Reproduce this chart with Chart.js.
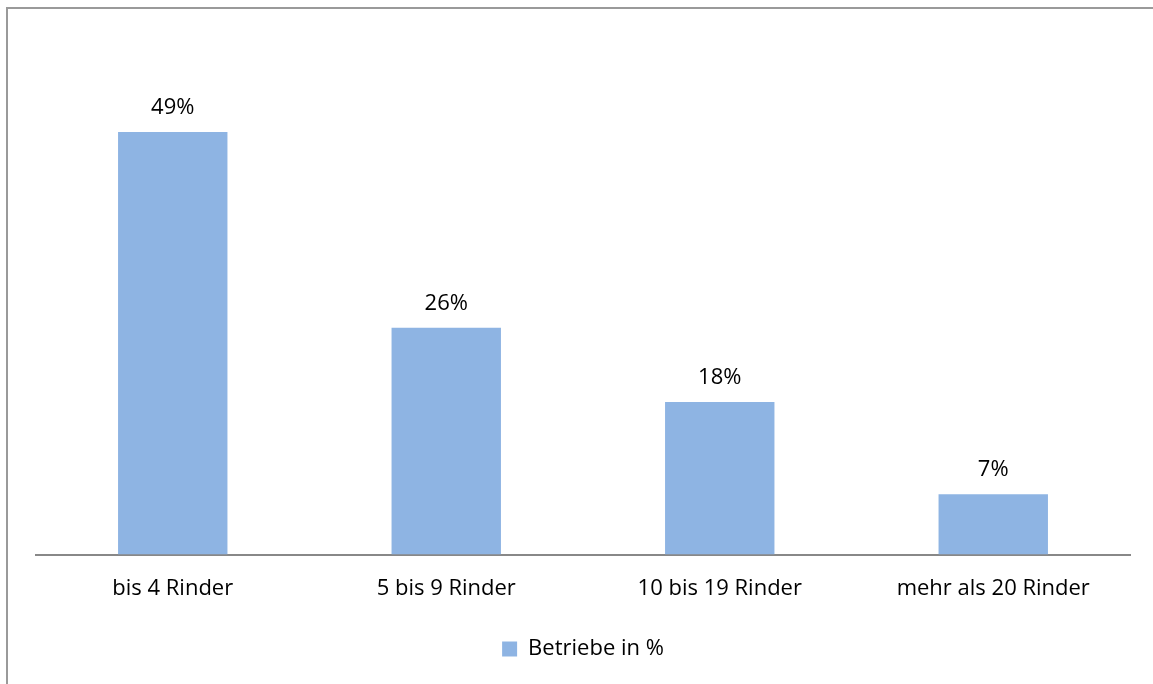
<!DOCTYPE html>
<html>
<head>
<meta charset="utf-8">
<script src="https://cdn.jsdelivr.net/npm/chart.js@4"></script>
<style>
  html, body { margin: 0; padding: 0; background: #fff; overflow: hidden; }
  #frame { position: absolute; left: 6px; top: 7px; width: 1300px; height: 800px;
           border-left: 2px solid #9a9a9a; border-top: 2px solid #9a9a9a; }
  #wrap { position: absolute; left: 0; top: 0; width: 1153px; height: 684px; }
</style>
</head>
<body>
<div id="frame"></div>
<div id="wrap"><canvas id="myBarChart"></canvas></div>
<script>
// categories and values
var categories = ["bis 4 Rinder", "5 bis 9 Rinder", "10 bis 19 Rinder", "mehr als 20 Rinder"];
var betriebe = [49.0, 26.3, 17.7, 7.0];
var seriesName = "Betriebe in %";

// value labels above each bar
const valueLabels = {
    id: 'valueLabels',
    afterDatasetsDraw(chart) {
        const ctx = chart.ctx;
        const meta = chart.getDatasetMeta(0);
        ctx.save();
        ctx.font = '22px "Open Sans"';
        ctx.fillStyle = '#000';
        ctx.textAlign = 'center';
        ctx.textBaseline = 'alphabetic';
        meta.data.forEach(function (bar, i) {
            ctx.fillText(Math.round(betriebe[i]) + '%', bar.x, bar.y - 18);
        });
        ctx.restore();
    }
};

const data = {
    labels: categories,
    datasets: [{
        label: seriesName,
        data: betriebe,
        backgroundColor: '#8EB4E3',
        borderWidth: 0,
        categoryPercentage: 1,
        barPercentage: 0.4
    }]
};

const config = {
    type: 'bar',
    data: data,
    plugins: [valueLabels],
    options: {
        responsive: true,
        maintainAspectRatio: false,
        animation: false,
        layout: {
            padding: { left: 36, right: 23, top: 37, bottom: 14 }
        },
        scales: {
            x: {
                grid: { display: false, drawTicks: false },
                border: { display: true, color: '#888', width: 2 },
                ticks: {
                    color: '#000',
                    font: { family: 'Open Sans', size: 22 },
                    padding: 21,
                    maxRotation: 0
                }
            },
            y: {
                display: false,
                min: 0,
                max: 60
            }
        },
        plugins: {
            legend: {
                position: 'bottom',
                labels: {
                    color: '#000',
                    font: { family: 'Open Sans', size: 22 },
                    boxWidth: 15,
                    boxHeight: 15,
                    padding: 15
                }
            },
            tooltip: { enabled: false }
        }
    }
};

var ctx = document.getElementById('myBarChart').getContext('2d');
var myBarChart = new Chart(ctx, config);
</script>
</body>
</html>
